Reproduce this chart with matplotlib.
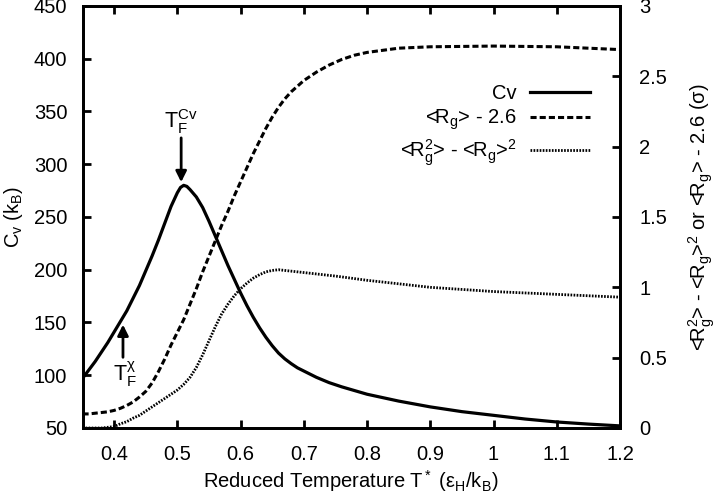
import matplotlib
matplotlib.use("Agg")
import matplotlib.pyplot as plt

plt.rcParams['font.family'] = ['Liberation Sans', 'DejaVu Sans']
plt.rcParams['mathtext.fontset'] = 'custom'
plt.rcParams['mathtext.rm'] = 'Liberation Sans'
plt.rcParams['mathtext.it'] = 'Liberation Sans'
plt.rcParams['mathtext.default'] = 'regular'

# ---- data ----
t_cv = [0.35, 0.36, 0.37, 0.38, 0.39, 0.40, 0.41, 0.42, 0.43, 0.44, 0.45, 0.46, 0.47,
        0.48, 0.49, 0.50, 0.505, 0.51, 0.515, 0.52, 0.53, 0.54, 0.55, 0.56, 0.57, 0.58,
        0.59, 0.60, 0.61, 0.62, 0.63, 0.64, 0.65, 0.66, 0.67, 0.68, 0.69, 0.70, 0.72,
        0.74, 0.76, 0.78, 0.80, 0.85, 0.90, 0.95, 1.0, 1.05, 1.1, 1.15, 1.2]
cv = [97, 105, 113, 122, 131, 141, 151, 161, 173, 185, 199, 213, 228,
      244, 260, 273, 278, 280, 279, 276, 269, 259, 246, 232, 218, 204,
      191, 178, 166, 155, 145, 136, 128, 121, 115.5, 111, 107, 104, 98,
      93, 89, 85.5, 82, 75.5, 70, 65.5, 62, 58.5, 55.7, 53.7, 52]

t_rg = [0.35, 0.36, 0.37, 0.38, 0.39, 0.40, 0.41, 0.42, 0.43, 0.44, 0.45, 0.46, 0.47,
        0.48, 0.49, 0.50, 0.51, 0.52, 0.53, 0.54, 0.55, 0.56, 0.57, 0.58, 0.59, 0.60,
        0.61, 0.62, 0.63, 0.64, 0.65, 0.66, 0.67, 0.68, 0.69, 0.70, 0.72, 0.74, 0.76,
        0.78, 0.80, 0.85, 0.90, 1.0, 1.1, 1.2]
rg = [0.10, 0.10, 0.105, 0.11, 0.115, 0.125, 0.14, 0.16, 0.185, 0.22, 0.26, 0.32, 0.40,
      0.49, 0.59, 0.68, 0.77, 0.88, 0.99, 1.11, 1.22, 1.33, 1.44, 1.54, 1.65, 1.75,
      1.85, 1.95, 2.04, 2.13, 2.21, 2.28, 2.34, 2.39, 2.43, 2.47, 2.53, 2.58, 2.62,
      2.65, 2.67, 2.70, 2.71, 2.715, 2.71, 2.69]

t_fl = [0.35, 0.38, 0.40, 0.41, 0.42, 0.43, 0.44, 0.45, 0.46, 0.47, 0.48, 0.49, 0.50,
        0.51, 0.52, 0.53, 0.54, 0.55, 0.56, 0.57, 0.58, 0.59, 0.60, 0.61, 0.62, 0.63,
        0.64, 0.65, 0.66, 0.67, 0.70, 0.75, 0.80, 0.85, 0.90, 1.0, 1.1, 1.2]
fl = [0.0, 0.0, 0.01, 0.03, 0.045, 0.07, 0.09, 0.12, 0.15, 0.18, 0.21, 0.24, 0.27,
      0.31, 0.36, 0.43, 0.52, 0.62, 0.72, 0.81, 0.88, 0.94, 0.99, 1.03, 1.065, 1.09,
      1.11, 1.12, 1.125, 1.12, 1.105, 1.08, 1.05, 1.025, 1.0, 0.97, 0.95, 0.93]

xticks = [0.4, 0.5, 0.6, 0.7, 0.8, 0.9, 1.0, 1.1, 1.2]
xticklabels = ['0.4', '0.5', '0.6', '0.7', '0.8', '0.9', '1', '1.1', '1.2']
yticks = [50, 100, 150, 200, 250, 300, 350, 400, 450]
y2ticks = [0, 0.5, 1, 1.5, 2, 2.5, 3]
y2ticklabels = ['0', '0.5', '1', '1.5', '2', '2.5', '3']

labels = ['Cv', '<R$_g$> - 2.6', '<R$_g^2$> - <R$_g$>$^2$']

fig = plt.figure(figsize=(7.2, 4.99), dpi=100)
ax = fig.add_axes([0.1146, 0.1423, 0.7465, 0.8457])
ax2 = ax.twinx()

fs = 14.5
l1, = ax.plot(t_cv, cv, color='black', lw=2.3, solid_joinstyle='round')
l2, = ax2.plot(t_rg, rg, color='black', lw=2.2, linestyle=(0, (2.0, 1.0)))
l3, = ax2.plot(t_fl, fl, color='black', lw=2.0, linestyle=(0, (0.6, 0.5)))

ax.set_xlim(0.35, 1.2)
ax.set_ylim(50, 450)
ax2.set_ylim(0, 3)

ax.set_xticks(xticks)
ax.set_xticklabels(xticklabels)
ax.set_yticks(yticks)
ax2.set_yticks(y2ticks)
ax2.set_yticklabels(y2ticklabels)

for a in (ax, ax2):
    for s in a.spines.values():
        s.set_linewidth(2.0)
ax.tick_params(axis='both', direction='in', length=6, width=2.0, labelsize=fs, pad=11)
ax.tick_params(axis='x', pad=12, top=True)
ax2.tick_params(axis='y', direction='in', length=6, width=2.0, labelsize=fs, pad=14)

ax.set_xlabel(r'Reduced Temperature T$^*$ ($\epsilon_H$/k$_B$)', fontsize=fs, labelpad=3)
ax.set_ylabel(r'C$_v$ (k$_B$)', fontsize=fs, labelpad=6)
ax2.set_ylabel(r'<R$_g^2$> - <R$_g$>$^2$ or <R$_g$> - 2.6 ($\sigma$)', fontsize=fs, labelpad=14)

leg = ax2.legend([l1, l2, l3], labels, loc='upper right', bbox_to_anchor=(0.96, 0.835),
                 frameon=False, markerfirst=False, fontsize=fs, handlelength=3.0,
                 handletextpad=0.65, labelspacing=0.25, borderaxespad=0)

# annotations
ax.annotate('', xy=(0.506, 283), xytext=(0.506, 325),
            arrowprops=dict(arrowstyle='-|>', lw=2.0, color='black', mutation_scale=16,
                            shrinkA=0, shrinkB=0))
ax.text(0.506, 327, r'T$_F^{Cv}$', ha='center', va='bottom', fontsize=fs + 1)
ax.annotate('', xy=(0.414, 148), xytext=(0.414, 117),
            arrowprops=dict(arrowstyle='-|>', lw=2.0, color='black', mutation_scale=16,
                            shrinkA=0, shrinkB=0))
ax.text(0.417, 115, r'T$_F^{\chi}$', ha='center', va='top', fontsize=fs + 1)

fig.savefig('out.png', dpi=100)
